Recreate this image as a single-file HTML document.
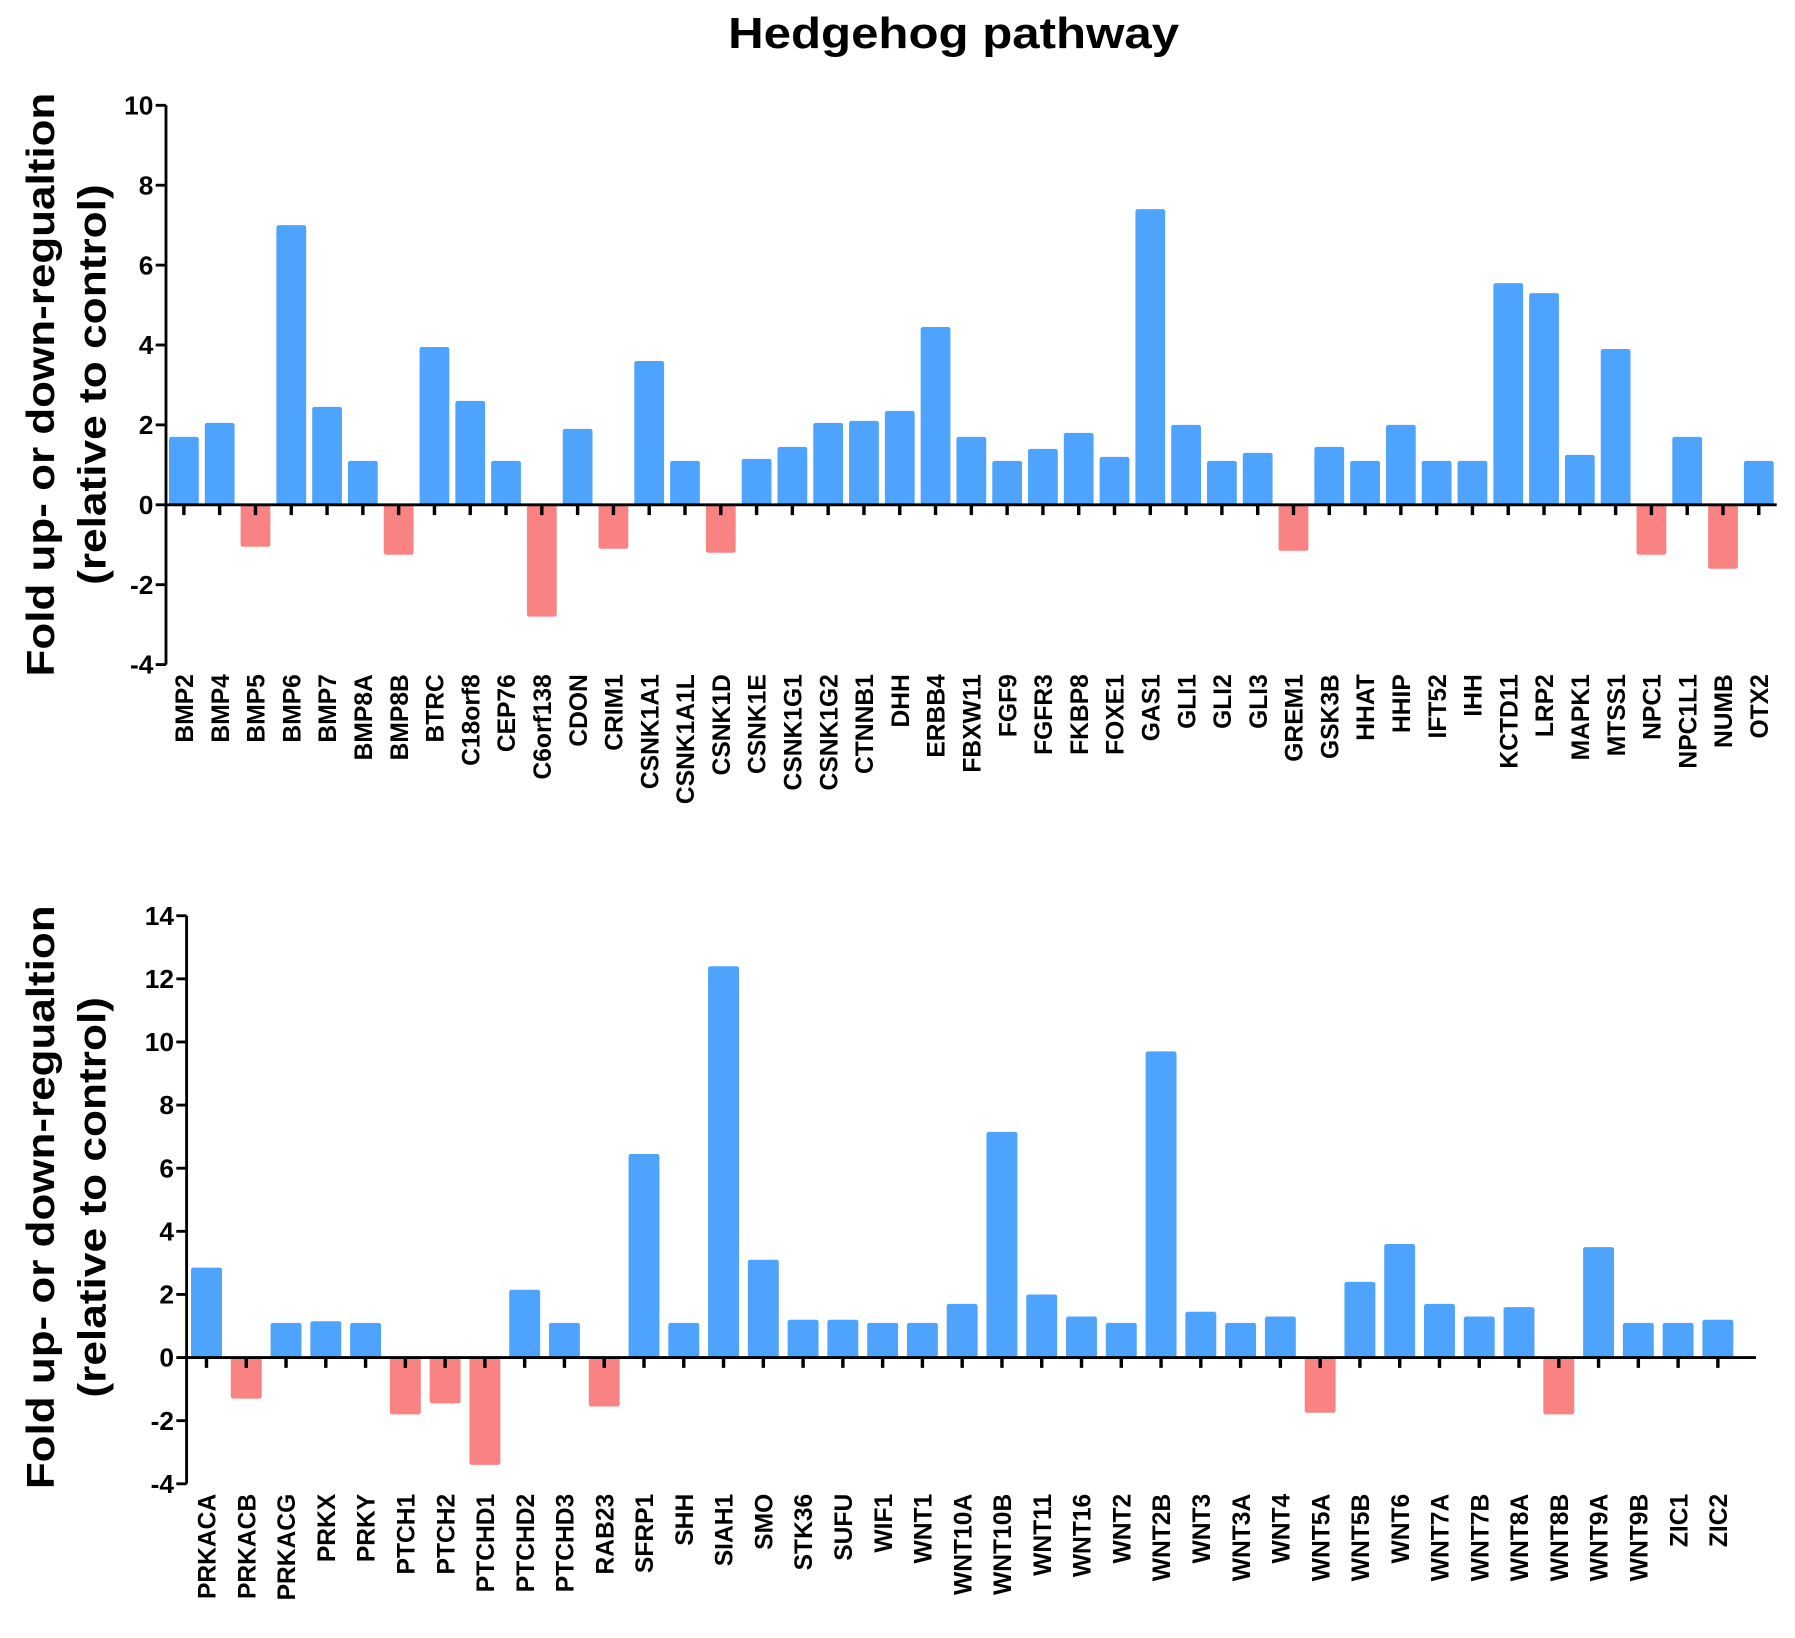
<!DOCTYPE html>
<html><head><meta charset="utf-8">
<style>
html,body{margin:0;padding:0;background:#fff;}
svg{display:block;}
text{font-family:"Liberation Sans",Arial,sans-serif;font-weight:bold;fill:#000;}
</style></head>
<body>
<svg id="chart" width="1795" height="1638" viewBox="0 0 1568 1431" preserveAspectRatio="none" xmlns="http://www.w3.org/2000/svg">
<text x="833" y="42" font-size="38" text-anchor="middle" textLength="394" lengthAdjust="spacingAndGlyphs">Hedgehog pathway</text>
</svg>
<script>
const topGenes = ["BMP2","BMP4","BMP5","BMP6","BMP7","BMP8A","BMP8B","BTRC","C18orf8","CEP76","C6orf138","CDON","CRIM1","CSNK1A1","CSNK1A1L","CSNK1D","CSNK1E","CSNK1G1","CSNK1G2","CTNNB1","DHH","ERBB4","FBXW11","FGF9","FGFR3","FKBP8","FOXE1","GAS1","GLI1","GLI2","GLI3","GREM1","GSK3B","HHAT","HHIP","IFT52","IHH","KCTD11","LRP2","MAPK1","MTSS1","NPC1","NPC1L1","NUMB","OTX2"];
const topValues = [1.7,2.05,-1.05,7.0,2.45,1.1,-1.25,3.95,2.6,1.1,-2.8,1.9,-1.1,3.6,1.1,-1.2,1.15,1.45,2.05,2.1,2.35,4.45,1.7,1.1,1.4,1.8,1.2,7.4,2.0,1.1,1.3,-1.15,1.45,1.1,2.0,1.1,1.1,5.55,5.3,1.25,3.9,-1.25,1.7,-1.6,1.1];
const topTicks = [-4,-2,0,2,4,6,8,10];
const bottomGenes = ["PRKACA","PRKACB","PRKACG","PRKX","PRKY","PTCH1","PTCH2","PTCHD1","PTCHD2","PTCHD3","RAB23","SFRP1","SHH","SIAH1","SMO","STK36","SUFU","WIF1","WNT1","WNT10A","WNT10B","WNT11","WNT16","WNT2","WNT2B","WNT3","WNT3A","WNT4","WNT5A","WNT5B","WNT6","WNT7A","WNT7B","WNT8A","WNT8B","WNT9A","WNT9B","ZIC1","ZIC2"];
const bottomValues = [2.85,-1.3,1.1,1.15,1.1,-1.8,-1.45,-3.4,2.15,1.1,-1.55,6.45,1.1,12.4,3.1,1.2,1.2,1.1,1.1,1.7,7.15,2.0,1.3,1.1,9.7,1.45,1.1,1.3,-1.75,2.4,3.6,1.7,1.3,1.6,-1.8,3.5,1.1,1.1,1.2];
const bottomTicks = [-4,-2,0,2,4,6,8,10,12,14];

const NS = "http://www.w3.org/2000/svg";
const svg = document.getElementById("chart");
function mk(tag, attrs, parent){
  const e = document.createElementNS(NS, tag);
  for (const k in attrs) e.setAttribute(k, attrs[k]);
  (parent||svg).appendChild(e);
  return e;
}
function drawPanel(p, genes, values, ticks){
  const g = mk("g", {});
  
  
  const yS = v => p.y0 - v * (p.y0 - p.yTop) / p.max;
  const band = (p.xEnd - p.x0) / genes.length;
  const xC = i => p.x0 + band * (i + 0.5);
  values.forEach((v, i) => {
    const y1 = yS(Math.max(v,0)), y2 = yS(Math.min(v,0));
    const r = mk("rect", {x: xC(i) - p.bw/2, y: y1, width: p.bw, height: y2 - y1, rx: 2, fill: v >= 0 ? "#4ea3fd" : "#f98282"}, g);
    
    
  });
  const ya = mk("line", {x1: p.x0, x2: p.x0, y1: yS(ticks[ticks.length-1]), y2: yS(ticks[0]), stroke: "#000", "stroke-width": 2.5}, g);
  
  
  ticks.forEach(t => {
    mk("line", {x1: p.x0 - 9, x2: p.x0, y1: yS(t), y2: yS(t), stroke: "#000", "stroke-width": 2.5}, g);
    const tl = mk("text", {x: p.x0 - 11, y: yS(t) + 8, "font-size": 23, "text-anchor": "end"}, g);
    tl.textContent = t;
    
    
  });
  const za = mk("line", {x1: p.x0, x2: p.xAxisEnd, y1: yS(0), y2: yS(0), stroke: "#000", "stroke-width": 2.5}, g);
  
  
  genes.forEach((name, i) => {
    mk("line", {x1: xC(i), x2: xC(i), y1: yS(0), y2: yS(0) + 9, stroke: "#000", "stroke-width": 3}, g);
    const lab = mk("text", {x: 0, y: 0, "font-size": 21.5, "text-anchor": "end", transform: `translate(${xC(i)+8},${p.labelTop}) rotate(-90)`}, g);
    lab.textContent = name;
    
    
  });
  const cy = p.titleY;
  const t1 = mk("text", {x: 0, y: 0, "font-size": 34, "text-anchor": "middle", textLength: 510, lengthAdjust: "spacingAndGlyphs", transform: `translate(${p.titleX},${cy}) rotate(-90)`}, g);
  t1.textContent = "Fold up- or down-regualtion";
  
  
  const t2 = mk("text", {x: 0, y: 0, "font-size": 34, "text-anchor": "middle", textLength: 350, lengthAdjust: "spacingAndGlyphs", transform: `translate(${p.titleX+45},${cy}) rotate(-90)`}, g);
  t2.textContent = "(relative to control)";
  
  
}
drawPanel({name:"top-panel", x0:145, xEnd:1552, xAxisEnd:1552, y0:441, yTop:92, max:10, bw:26, labelTop:589, titleX:47, titleY:336}, topGenes, topValues, topTicks);
drawPanel({name:"bottom-panel", x0:163, xEnd:1518, xAxisEnd:1534, y0:1186, yTop:800, max:14, bw:27, labelTop:1305, titleX:47, titleY:1046}, bottomGenes, bottomValues, bottomTicks);
</script>
</body></html>
